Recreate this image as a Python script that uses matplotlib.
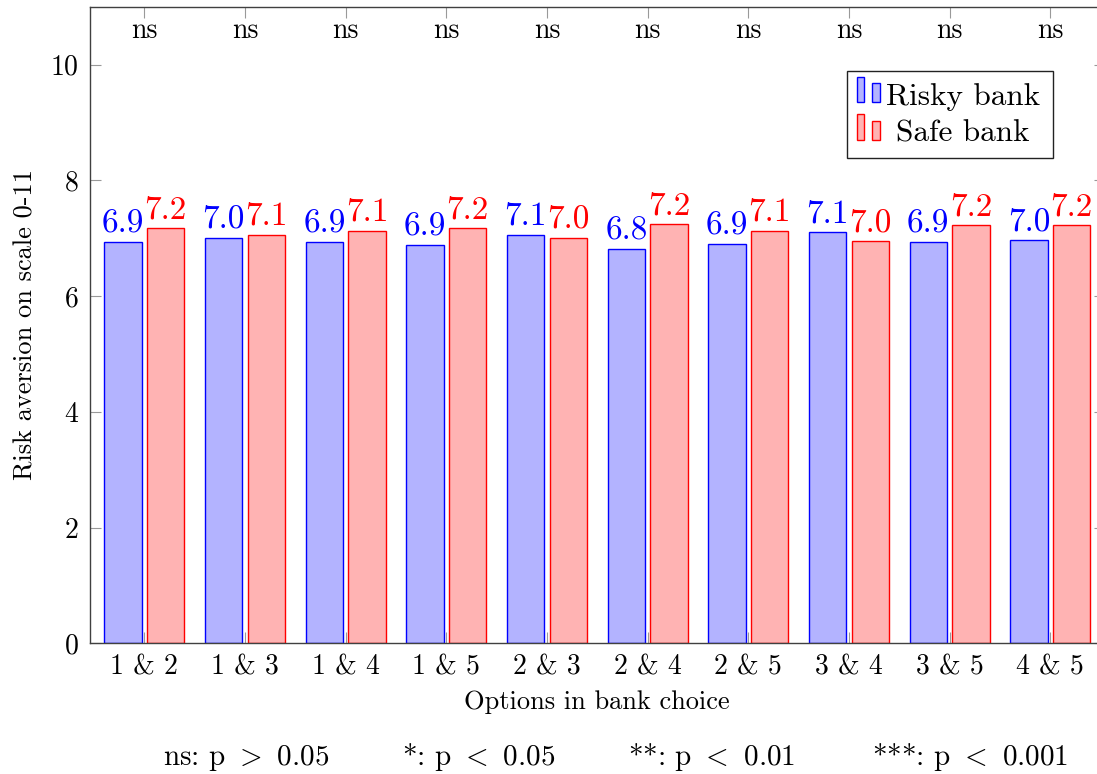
import numpy as np
import matplotlib
matplotlib.use('Agg')
import matplotlib.pyplot as plt
from matplotlib.patches import Rectangle


categories = ['1 & 2', '1 & 3', '1 & 4', '1 & 5', '2 & 3', '2 & 4', '2 & 5', '3 & 4', '3 & 5', '4 & 5']
risky_bank = [6.93, 7.01, 6.93, 6.88, 7.06, 6.81, 6.90, 7.10, 6.93, 6.97]
safe_bank = [7.18, 7.06, 7.13, 7.17, 7.01, 7.24, 7.13, 6.95, 7.22, 7.23]
significance = ['ns', 'ns', 'ns', 'ns', 'ns', 'ns', 'ns', 'ns', 'ns', 'ns']
y_ticks = [0, 2, 4, 6, 8, 10]
footnotes = [r'ns: p $>$ 0.05', r'*: p $<$ 0.05', r'**: p $<$ 0.01', r'***: p $<$ 0.001']

plt.rcParams['font.family'] = ['cmr10', 'DejaVu Serif']
plt.rcParams['mathtext.fontset'] = 'cm'
plt.rcParams['axes.formatter.use_mathtext'] = True

W, H = 1097, 774
fig = plt.figure(figsize=(W / 100, H / 100), dpi=100)

# axes frame runs a bit past the right edge of the picture, like the original
ax_l, ax_r, ax_t, ax_b = 90, 1104.6, 6.7, 643.3
ax = fig.add_axes([ax_l / W, 1 - ax_b / H, (ax_r - ax_l) / W, (ax_b - ax_t) / H])

x = np.arange(len(categories))
bw = 0.37
shift = 0.212

blue_fill, red_fill = '#b3b3ff', '#ffb3b3'

ax.bar(x - shift, risky_bank, bw, color=blue_fill, edgecolor='blue', linewidth=1.0)
ax.bar(x + shift, safe_bank, bw, color=red_fill, edgecolor='red', linewidth=1.0)

for xi, v in zip(x, risky_bank):
    ax.annotate(f'{v:.1f}', (xi - shift, v), xytext=(0, 7), textcoords='offset points',
                ha='center', va='baseline', color='blue', fontsize=24)

for xi, v in zip(x, safe_bank):
    ax.annotate(f'{v:.1f}', (xi + shift, v), xytext=(0, 7), textcoords='offset points',
                ha='center', va='baseline', color='red', fontsize=24)

for xi, s in zip(x, significance):
    ax.text(xi, 10.46, s, ha='center', va='baseline', fontsize=20)

ax.set_xlim(-0.54, 9.54)
ax.set_ylim(0, 11)
ax.set_xticks(x, categories)
ax.set_yticks(y_ticks)

ax.tick_params(axis='both', direction='in', length=8, width=0.8, color='#999999',
               labelsize=20, pad=8, top=True, right=True)

for sp in ax.spines.values():
    sp.set_color('#404040')
    sp.set_linewidth(1.0)

ax.set_xlabel('Options in bank choice', fontsize=19, labelpad=7)
ax.set_ylabel('Risk aversion on scale 0-11', fontsize=19, labelpad=9)


def px(xp, yp):
    # picture pixels -> axes fraction
    return (xp - ax_l) / (ax_r - ax_l), (ax_b - yp) / (ax_b - ax_t)


# legend, drawn by hand so the texts are centred like pgfplots does
x0, y0 = px(847.3, 157.7)
x1, y1 = px(1053.3, 71)
ax.add_patch(Rectangle((x0, y0), x1 - x0, y1 - y0, transform=ax.transAxes,
                       facecolor='white', edgecolor='#222222', linewidth=1.0, zorder=5))

entries = [('Risky bank', blue_fill, 'blue', 102.3, 105), ('Safe bank', red_fill, 'red', 140, 142)]

for label, fc, ec, base, ty in entries:
    for bx0, bx1, top in [(856.7, 864.3, base - 25.5), (872.3, 880, base - 19.5)]:
        a0, b0 = px(bx0, base)
        a1, b1 = px(bx1, top)
        ax.add_patch(Rectangle((a0, b0), a1 - a0, b1 - b0, transform=ax.transAxes,
                               facecolor=fc, edgecolor=ec, linewidth=1.0, zorder=6))
    tx, tyy = px(963, ty)
    ax.text(tx, tyy, label, transform=ax.transAxes, ha='center', va='baseline',
            fontsize=22.5, zorder=7)

foot_x = [162.7, 401.7, 628.3, 871.7]

for fx, s in zip(foot_x, footnotes):
    fig.text(fx / W, 1 - 765 / H, s, ha='left', va='baseline', fontsize=21)

fig.savefig('out.png', dpi=100)
plt.close(fig)
